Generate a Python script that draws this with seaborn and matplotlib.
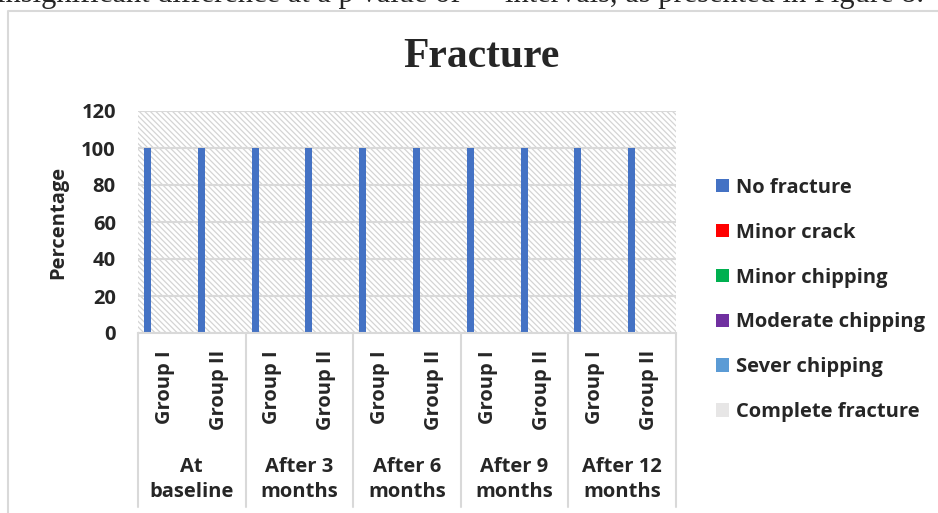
import matplotlib
matplotlib.use("Agg")
import matplotlib.pyplot as plt
from matplotlib.patches import Rectangle
from matplotlib.lines import Line2D
import seaborn as sns
import pandas as pd

time_points = ["At\nbaseline", "After 3\nmonths", "After 6\nmonths", "After 9\nmonths", "After 12\nmonths"]
groups = ["Group I", "Group II"]
fracture_types = ["No fracture", "Minor crack", "Minor chipping", "Moderate chipping",
                  "Sever chipping", "Complete fracture"]
no_fracture = [100, 100, 100, 100, 100, 100, 100, 100, 100, 100]
minor_crack = [0, 0, 0, 0, 0, 0, 0, 0, 0, 0]
minor_chipping = [0, 0, 0, 0, 0, 0, 0, 0, 0, 0]
moderate_chipping = [0, 0, 0, 0, 0, 0, 0, 0, 0, 0]
sever_chipping = [0, 0, 0, 0, 0, 0, 0, 0, 0, 0]
complete_fracture = [0, 0, 0, 0, 0, 0, 0, 0, 0, 0]
colors = ["#4472C4", "#FF0000", "#00B050", "#7030A0", "#5B9BD5", "#E7E6E6"]

series = [no_fracture, minor_crack, minor_chipping, moderate_chipping, sever_chipping, complete_fracture]
slots = [f"{t}|{g}" for t in time_points for g in groups]
rows = []
for name, vals in zip(fracture_types, series):
    for slot, v in zip(slots, vals):
        rows.append({"slot": slot, "type": name, "value": v})
df = pd.DataFrame(rows)

sns.set_style("white")
plt.rcParams["font.family"] = ["Open Sans", "DejaVu Sans"]
plt.rcParams["font.weight"] = "bold"
plt.rcParams["hatch.color"] = "#d4d4d4"
plt.rcParams["hatch.linewidth"] = 0.9

FS = 14.5
W, H = 938, 513
fig = plt.figure(figsize=(W / 100, H / 100), dpi=100)
ax = fig.add_axes([138 / W, 1 - 333 / H, 538 / W, 222 / H])

# hatched plot area
ax.add_patch(Rectangle((0, 0), 1, 1, transform=ax.transAxes, facecolor="white",
                       edgecolor="#d4d4d4", hatch="\\" * 6, lw=0, zorder=0))

sns.barplot(data=df, x="slot", y="value", hue="type", order=slots, hue_order=fracture_types,
            palette=colors, width=0.78, linewidth=0, saturation=1, ax=ax, zorder=2)

ax.set_xlim(-0.5, len(slots) - 0.5)
ax.set_ylim(0, 120)
ax.set_yticks([0, 20, 40, 60, 80, 100, 120])
ax.set_axisbelow(True)
ax.yaxis.grid(True, color="#d9d9d9", lw=1.5)
for s in ["top", "right", "left"]:
    ax.spines[s].set_visible(False)
ax.spines["bottom"].set_color("#d9d9d9")
ax.spines["bottom"].set_linewidth(1.5)
ax.tick_params(axis="y", length=0, pad=16, labelsize=FS)
ax.tick_params(axis="x", length=0, labelbottom=False)
ax.set_xlabel("")
ax.set_ylabel("Percentage", fontsize=FS, fontweight="bold", labelpad=9)

# multi-level category axis
tr = ax.get_xaxis_transform()
for i, slot in enumerate(slots):
    ax.text(i, -0.077, slot.split("|")[1], transform=tr, rotation=90, ha="center", va="top",
            fontsize=FS, fontweight="bold", clip_on=False)
for k, t in enumerate(time_points):
    ax.text(2 * k + 0.5, -0.66, t, transform=tr, ha="center", va="center",
            fontsize=FS, fontweight="bold", linespacing=1.38, clip_on=False)
for b in [-0.5, 1.5, 3.5, 5.5, 7.5, 9.5]:
    ax.plot([b, b], [0, -0.785], transform=tr, color="#d9d9d9", lw=1.5, clip_on=False)

handles, labels = ax.get_legend_handles_labels()
ax.legend(handles, labels, loc="center left", bbox_to_anchor=(716 / W, 1 - 300 / H),
          bbox_transform=fig.transFigure, frameon=False, borderpad=0,
          borderaxespad=0, handlelength=0.65, handleheight=0.68, handletextpad=0.35,
          labelspacing=1.24, prop={"weight": "bold", "size": FS})

fig.text(481 / W, 1 - 57 / H, "Fracture", ha="center", va="center", fontsize=30,
         fontweight="bold", family="Liberation Serif")

# surrounding page text and chart frame
fig.text(-3 / W, 1 - 2 / H, "insignificant difference at a p value of", ha="left",
         va="baseline", fontsize=22, fontweight="normal", family="Liberation Serif")
fig.text(505 / W, 1 - 2 / H, "intervals, as presented in Figure 8.", ha="left",
         va="baseline", fontsize=22, fontweight="normal", family="Liberation Serif")
fig.add_artist(Line2D([8 / W, 8 / W, 1.0], [0.0, 1 - 11 / H, 1 - 11 / H],
                      transform=fig.transFigure, color="#d9d9d9", lw=1.5))

fig.savefig("out.png", dpi=100)
